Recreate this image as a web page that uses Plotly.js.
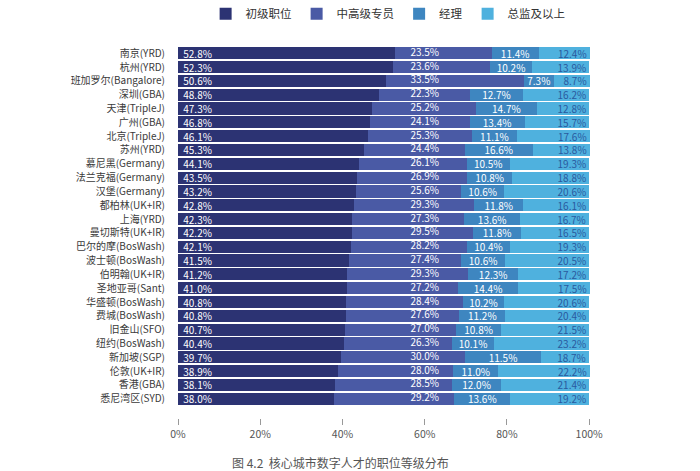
<!DOCTYPE html>
<html>
<head>
<meta charset="utf-8">
<script src="https://cdn.plot.ly/plotly-3.0.1.min.js"></script>
<style>html,body{margin:0;padding:0;background:#fff;}#chart{width:700px;height:471px;}</style>
</head>
<body>
<div id="chart"></div>
<script>
const cities = ["南京(YRD)","杭州(YRD)","班加罗尔(Bangalore)","深圳(GBA)","天津(TripleJ)","广州(GBA)","北京(TripleJ)","苏州(YRD)","慕尼黑(Germany)","法兰克福(Germany)","汉堡(Germany)","都柏林(UK+IR)","上海(YRD)","曼切斯特(UK+IR)","巴尔的摩(BosWash)","波士顿(BosWash)","伯明翰(UK+IR)","圣地亚哥(Sant)","华盛顿(BosWash)","费城(BosWash)","旧金山(SFO)","纽约(BosWash)","新加坡(SGP)","伦敦(UK+IR)","香港(GBA)","悉尼湾区(SYD)"];
const seriesNames = ["初级职位","中高级专员","经理","总监及以上"];
// labelled values
const junior = [52.8,52.3,50.6,48.8,47.3,46.8,46.1,45.3,44.1,43.5,43.2,42.8,42.3,42.2,42.1,41.5,41.2,41.0,40.8,40.8,40.7,40.4,39.7,38.9,38.1,38.0];
const senior = [23.5,23.6,33.5,22.3,25.2,24.1,25.3,24.4,26.1,26.9,25.6,29.3,27.3,29.5,28.2,27.4,29.3,27.2,28.4,27.6,27.0,26.3,30.0,28.0,28.5,29.2];
const manager = [11.4,10.2,7.3,12.7,14.7,13.4,11.1,16.6,10.5,10.8,10.6,11.8,13.6,11.8,10.4,10.6,12.3,14.4,10.2,11.2,10.8,10.1,11.5,11.0,12.0,13.6];
const director = [12.4,13.9,8.7,16.2,12.8,15.7,17.6,13.8,19.3,18.8,20.6,16.1,16.7,16.5,19.3,20.5,17.2,17.5,20.6,20.4,21.5,23.2,18.7,22.2,21.4,19.2];
// segment lengths as drawn in the reference (新加坡 row drawn with 经理/总监 lengths swapped)
const managerDrawn = [11.4,10.2,7.3,12.7,14.7,13.4,11.1,16.6,10.5,10.8,10.6,11.8,13.6,11.8,10.4,10.6,12.3,14.4,10.2,11.2,10.8,10.1,18.7,11.0,12.0,13.6];
const directorDrawn = [12.4,13.9,8.7,16.2,12.8,15.7,17.6,13.8,19.3,18.8,20.6,16.1,16.7,16.5,19.3,20.5,17.2,17.5,20.6,20.4,21.5,23.2,11.5,22.2,21.4,19.2];
const xTicks = [0,20,40,60,80,100];
const xTickText = ["0%","20%","40%","60%","80%","100%"];
const chartTitle = "图 4.2  核心城市数字人才的职位等级分布";

const colors = ["#2c3373","#4a5aa5","#3e86c0","#4fb1de"];
const FONT = "'Noto Sans CJK SC', 'Noto Sans', sans-serif";
const pct = v => v.toFixed(1) + "%";
const seniorLabelX = 60;
const LBL = 10;

const common = {type:"bar", orientation:"h", y:cities, cliponaxis:false, textangle:0, constraintext:"none", textposition:"inside"};
const traces = [
  Object.assign({}, common, {name:seriesNames[0], x:junior, marker:{color:colors[0]},
   text:junior.map(v => " " + pct(v)), insidetextanchor:"start",
   textfont:{color:"#ffffff", size:LBL, family:FONT}}),
  Object.assign({}, common, {name:seriesNames[1], x:senior, marker:{color:colors[1]}, textposition:"none"}),
  Object.assign({}, common, {name:seriesNames[2], x:managerDrawn, marker:{color:colors[2]},
   text:manager.map(pct), insidetextanchor:"middle",
   textfont:{color:"#ffffff", size:LBL, family:FONT}}),
  Object.assign({}, common, {name:seriesNames[3], x:directorDrawn, marker:{color:colors[3]},
   text:director.map(pct), insidetextanchor:"end",
   textfont:{color:"#2a5a9e", size:LBL, family:FONT}}),
  {type:"scatter", mode:"text", y:cities, x:cities.map(()=>seniorLabelX), text:senior.map(pct),
   textposition:"middle center", textfont:{color:"#ffffff", size:LBL, family:FONT},
   showlegend:false, cliponaxis:false}
];

const layout = {
  width:700, height:471,
  margin:{l:178, r:110, t:34, b:53, autoexpand:false},
  paper_bgcolor:"#ffffff", plot_bgcolor:"#ffffff",
  barmode:"stack", bargap:0.12,
  font:{family:FONT, color:"#444"},
  showlegend:true,
  legend:{orientation:"h", x:0.51, xanchor:"center", y:1.015, yanchor:"bottom",
          font:{size:11.5, color:"#333", family:FONT}, itemwidth:30, traceorder:"normal"},
  xaxis:{range:[0,100.2], tickvals:xTicks, ticktext:xTickText, showgrid:false, zeroline:false,
         showline:false, ticks:"outside", ticklen:6, tickcolor:"#999", tickwidth:1,
         tickfont:{size:10.5, color:"#555", family:FONT}, fixedrange:true},
  yaxis:{autorange:"reversed", showgrid:false, zeroline:false, showline:false,
         ticks:"outside", ticklen:10, tickcolor:"rgba(0,0,0,0)",
         tickfont:{size:10, color:"#3a3a3a", family:FONT}, automargin:false, fixedrange:true},
  annotations:[{text:chartTitle, xref:"paper", yref:"paper", x:0.394, y:-0.117, xanchor:"center", yanchor:"middle",
                showarrow:false, font:{size:12, color:"#555", family:FONT}}],
  hovermode:false
};

Plotly.newPlot("chart", traces, layout, {displayModeBar:false, staticPlot:true});
</script>
</body>
</html>
